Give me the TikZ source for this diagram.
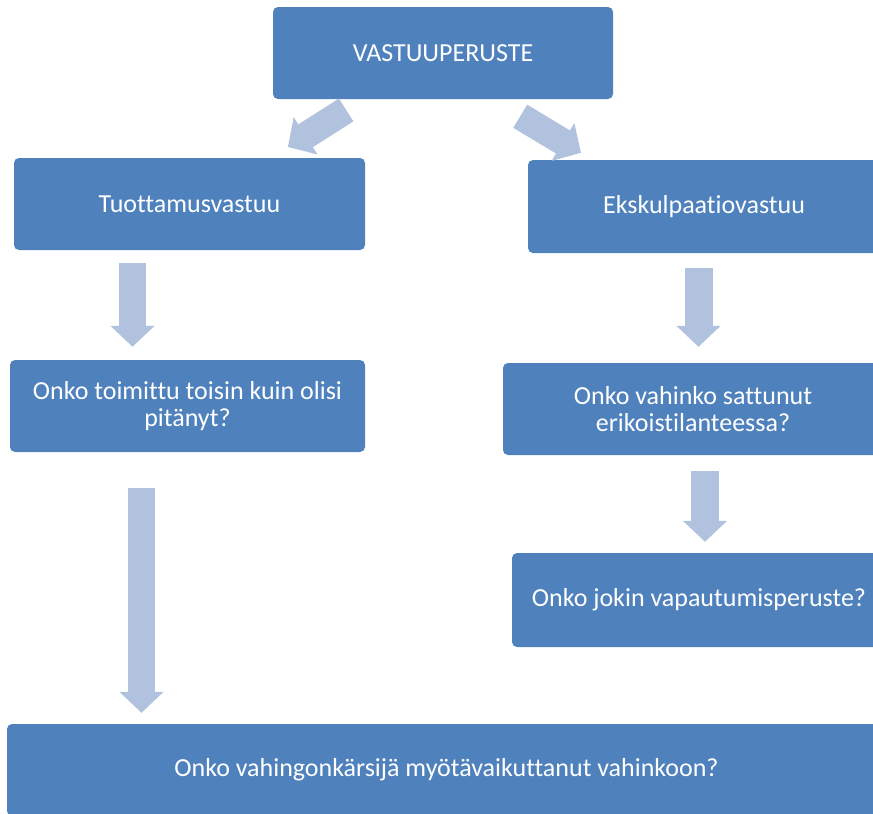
\documentclass[tikz,border=0pt]{standalone}
\usepackage{fontspec}
\setmainfont[Ligatures=NoCommon]{Carlito}
\usetikzlibrary{arrows.meta}
\definecolor{boxblue}{RGB}{79,129,189}
\definecolor{arrowblue}{RGB}{176,194,222}

\begin{document}
\begin{tikzpicture}[x=1pt, y=-1pt, main/.style={fill=boxblue, rounded corners=5pt, text=white, align=center, font=\fontsize{26}{27}\selectfont, minimum height=92pt, inner sep=0pt}, big/.style={draw=arrowblue, line width=27pt, -{Triangle[width=43pt,length=21pt]}}]
		\useasboundingbox (0,0) rectangle (873,814);
		\clip (0,0) rectangle (873,814);
		\node[main, minimum width=340pt] (1) at (443,53) {VASTUUPERUSTE};
		\node[main, minimum width=351pt] (2) at (189.5,204) {Tuottamusvastuu};
		\node[main, minimum width=352pt, minimum height=93pt] (3) at (704,206.5) {Ekskulpaatiovastuu};
		\node[main, minimum width=355pt] (4) at (187.5,406) {Onko toimittu toisin kuin olisi\\pitänyt?};
		\node[main, minimum width=380pt] (5) at (693,409) {Onko vahinko sattunut\\erikoistilanteessa?};
		\node[main, minimum width=374pt, minimum height=94pt] (6) at (699,600) {Onko jokin vapautumisperuste?};
		\node[main, minimum width=879pt] (7) at (446.5,770) {Onko vahingonkärsijä myötävaikuttanut vahinkoon?};


		\draw[big, shorten <=20pt, shorten >=20pt] (1.south -| 363,0) to (2.north -| 271,0);
		\draw[big, shorten <=33pt, shorten >=13.5pt] (1.south -| 492,0) to (3.north -| 592.5,0);
		\draw[big, shorten <=13pt, shorten >=13pt] (2.south -| 132.5,0) to (4.north -| 132.5,0);
		\draw[big, line width=28pt, shorten <=15pt, shorten >=16pt] (3.south -| 698.5,0) to (5.north -| 698.5,0);
		\draw[big, line width=28pt, shorten <=16pt, shorten >=11pt] (5.south -| 705,0) to (6.north -| 705,0);
		\draw[big, shorten <=36pt, shorten >=11pt] (4.south -| 141.5,0) to (7.north -| 141.5,0);
	\end{tikzpicture}
\end{document}
